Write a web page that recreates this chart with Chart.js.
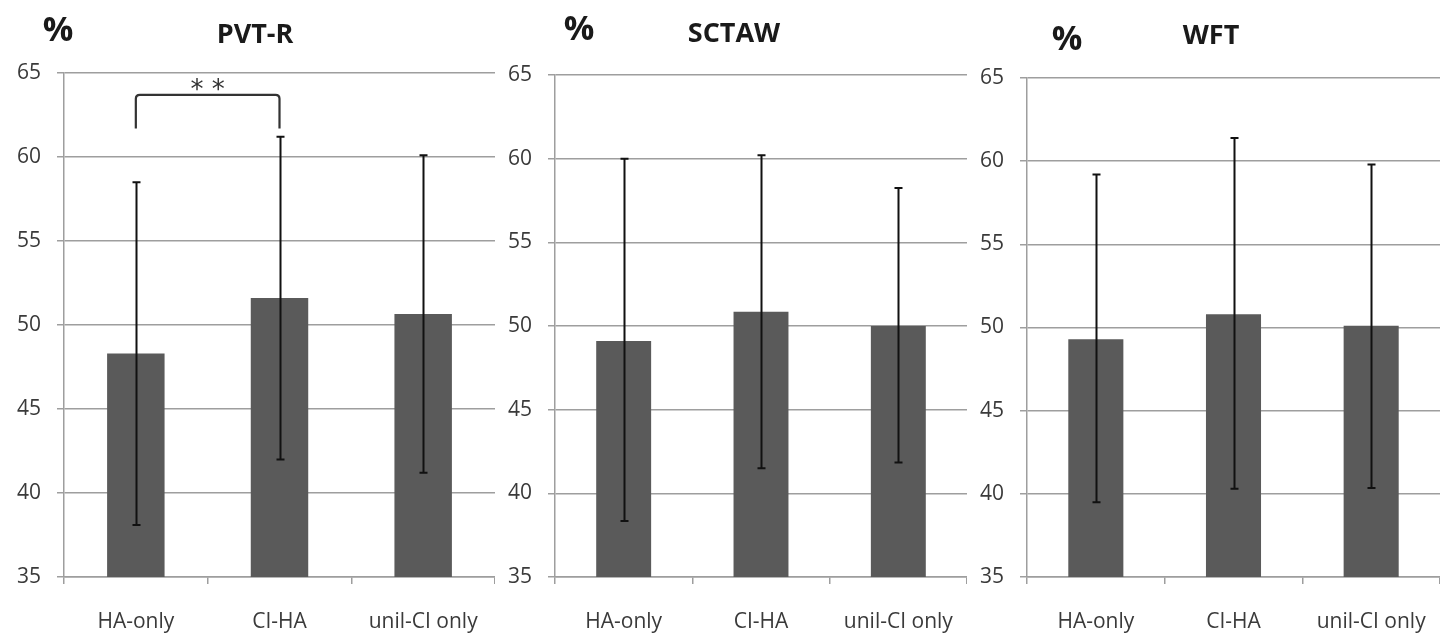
<!DOCTYPE html>
<html><head><meta charset="utf-8">
<script src="https://cdn.jsdelivr.net/npm/chart.js@4.4.1/dist/chart.umd.min.js"></script>
<style>
html,body{margin:0;padding:0;background:#fff;}
#wrap{position:relative;width:1440px;height:636px;overflow:hidden;background:#fff;}
canvas{position:absolute;top:0;}
.lbl{position:absolute;font-family:"Open Sans",sans-serif;font-weight:bold;color:#1a1a1a;white-space:nowrap;transform:translate(-50%,-50%);line-height:1;}
</style></head><body>
<div id="wrap">
  <canvas id="c1" width="495" height="636" style="left:0px"></canvas>
  <canvas id="c2" width="487" height="636" style="left:480px"></canvas>
  <canvas id="c3" width="480" height="636" style="left:960px"></canvas>
  <div class="lbl" style="left:58px;top:28px;font-size:34px">%</div>
  <div class="lbl" style="left:255px;top:32px;font-size:27px">PVT-R</div>
  <div class="lbl" style="left:579px;top:27px;font-size:34px">%</div>
  <div class="lbl" style="left:734px;top:31px;font-size:27px">SCTAW</div>
  <div class="lbl" style="left:1067px;top:37px;font-size:34px">%</div>
  <div class="lbl" style="left:1211px;top:33px;font-size:27px">WFT</div>
</div>
<script>
const categories = ['HA-only', 'CI-HA', 'unil-CI only'];
const yMin = 35, yMax = 65, yStep = 5;

const pvtMean = [48.3, 51.6, 50.65];
const pvtLow  = [38.1, 42.0, 41.2];
const pvtHigh = [58.5, 61.2, 60.1];

const sctawMean = [49.1, 50.85, 50.0];
const sctawLow  = [38.35, 41.5, 41.85];
const sctawHigh = [60.0, 60.2, 58.25];

const wftMean = [49.3, 50.8, 50.1];
const wftLow  = [39.5, 40.3, 40.35];
const wftHigh = [59.2, 61.4, 59.8];

// significance bracket (panel PVT-R): categories compared, label, bracket top value, end value
const sigPair = [0, 1];
const sigLabel = '**';
const sigTopValue = 63.7;
const sigEndValue = 61.7;

const BAR = '#5a5a5a', GRID = '#9e9e9e', TXT = '#3a3a3a';

const errorBarPlugin = {
  id: 'errbars',
  afterDatasetsDraw(chart, args, opts) {
    const meta = chart.getDatasetMeta(0);
    const ys = chart.scales.y;
    const ctx = chart.ctx;
    ctx.save();
    ctx.strokeStyle = '#111';
    ctx.lineWidth = 2;
    meta.data.forEach((el, i) => {
      const x = Math.round(el.x) + 0.5;
      const yH = ys.getPixelForValue(opts.high[i]);
      const yL = ys.getPixelForValue(opts.low[i]);
      ctx.beginPath();
      ctx.moveTo(x, yH); ctx.lineTo(x, yL);
      ctx.moveTo(x - 4, yH); ctx.lineTo(x + 4, yH);
      ctx.moveTo(x - 4, yL); ctx.lineTo(x + 4, yL);
      ctx.stroke();
    });
    if (opts.sig) {
      const a = meta.data[opts.sig.pair[0]].x, b = meta.data[opts.sig.pair[1]].x;
      const yT = ys.getPixelForValue(opts.sig.top), yE = ys.getPixelForValue(opts.sig.end);
      ctx.strokeStyle = '#333';
      ctx.lineWidth = 2.2;
      ctx.beginPath();
      ctx.moveTo(a, yE);
      ctx.lineTo(a, yT + 4);
      ctx.quadraticCurveTo(a, yT, a + 4, yT);
      ctx.lineTo(b - 4, yT);
      ctx.quadraticCurveTo(b, yT, b, yT + 4);
      ctx.lineTo(b, yE);
      ctx.stroke();
      ctx.fillStyle = '#333';
      ctx.font = '26px "DejaVu Sans", sans-serif';
      ctx.textAlign = 'center';
      ctx.textBaseline = 'middle';
      ctx.fillText(opts.sig.label.split('').join(' '), (a + b) / 2, yT - 4);
    }
    ctx.restore();
  }
};

function makeChart(id, mean, low, high, yWidth, top, sig) {
  return new Chart(document.getElementById(id), {
    type: 'bar',
    data: {
      labels: categories,
      datasets: [{ data: mean, backgroundColor: BAR, borderWidth: 0,
                   barPercentage: 0.4, categoryPercentage: 1.0 }]
    },
    options: {
      responsive: false,
      animation: false,
      layout: { padding: { top: top, right: 0, left: 0, bottom: 0 } },
      plugins: {
        legend: { display: false },
        tooltip: { enabled: false },
        title: { display: false },
        errbars: { low: low, high: high, sig: sig }
      },
      scales: {
        x: {
          grid: { display: true, drawOnChartArea: false, drawTicks: true, tickLength: 7,
                  color: GRID, lineWidth: 1.5, offset: true },
          border: { color: GRID, width: 1.5 },
          ticks: { color: TXT, font: { family: 'Open Sans', size: 21 }, padding: 25, maxRotation: 0 },
          afterFit(s) { s.height = 59; s.paddingLeft = 0; s.paddingRight = 0; }
        },
        y: {
          min: yMin, max: yMax,
          grid: { color: GRID, lineWidth: 1.5, tickLength: 7 },
          border: { color: GRID, width: 1.5 },
          ticks: { stepSize: yStep, color: TXT, font: { family: 'Open Sans', size: 21 }, padding: 16 },
          afterFit(s) { s.width = yWidth; s.paddingTop = 0; s.paddingBottom = 0; }
        }
      }
    },
    plugins: [errorBarPlugin]
  });
}

makeChart('c1', pvtMean, pvtLow, pvtHigh, 64, 73,
          { pair: sigPair, label: sigLabel, top: sigTopValue, end: sigEndValue });
makeChart('c2', sctawMean, sctawLow, sctawHigh, 75, 75, null);
makeChart('c3', wftMean, wftLow, wftHigh, 67, 78, null);
</script>
</body></html>
